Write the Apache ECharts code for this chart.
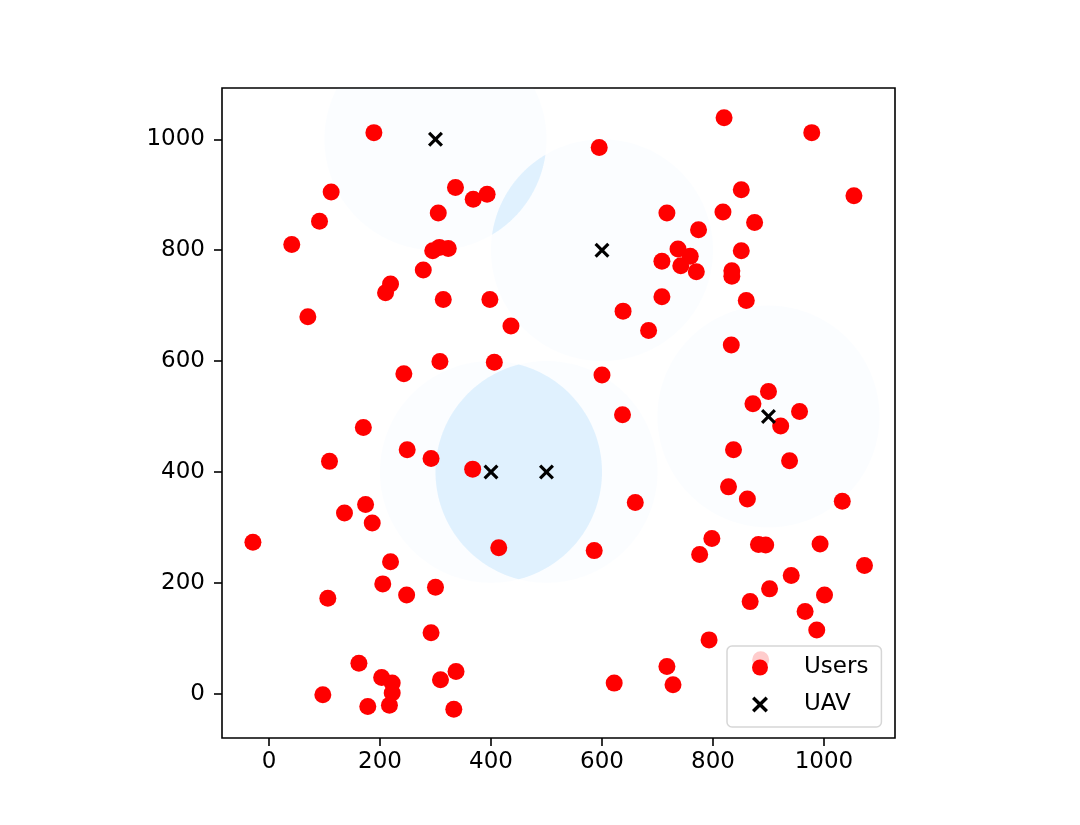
<!DOCTYPE html>
<html>
<head>
<meta charset="utf-8">
<script src="https://cdn.jsdelivr.net/npm/echarts@6/dist/echarts.min.js"></script>
<style>
html,body{margin:0;padding:0;background:#fff;}
#chart{width:1080px;height:825px;}
</style>
</head>
<body>
<div id="chart"></div>
<script>
// ---- data ----
const userX = [189,112,91,41,70,336,368,393,305,295,307,323,278,219,210,314,398,436,243,308,406,
  820,978,595,1054,851,717,818,875,774,737,759,708,742,770,851,834,834,708,860,638,684,833,600,900,872,956,637,
  170,249,292,367,109,174,136,186,-29,414,219,205,248,300,106,292,162,203,222,222,217,178,97,309,337,333,
  922,837,938,828,862,1033,660,586,798,776,882,895,993,1073,941,902,1001,867,966,987,793,717,728,622,886];
const userY = [1012,905,852,810,680,913,892,901,867,799,805,803,764,739,723,711,711,663,577,599,598,
  1039,1012,985,898,909,867,869,850,837,802,789,780,772,761,799,763,753,716,709,690,655,629,575,545,523,509,503,
  480,440,424,405,419,341,326,308,273,263,238,198,178,192,172,110,55,29,19,1,-21,-23,-2,25,40,-28,
  483,440,420,373,351,347,345,258,280,251,269,268,270,231,213,189,178,166,148,115,97,49,16,19,61];
const uavX = [300,600,900,400,500];
const uavY = [1000,800,500,400,400];
const coverageRadius = 200;
const xTicks = [0,200,400,600,800,1000];
const yTicks = [0,200,400,600,800,1000];
const seriesNames = ['Users','UAV'];

// ---- build ----
const users = userX.map((x,i)=>[x,userY[i]]);
const uavs = uavX.map((x,i)=>[x,uavY[i]]);
const pairs = [];
for (let i=0;i<uavs.length;i++) for (let j=i+1;j<uavs.length;j++){
  const dx=uavs[j][0]-uavs[i][0], dy=uavs[j][1]-uavs[i][1];
  if (Math.hypot(dx,dy) < 2*coverageRadius) pairs.push([(uavs[i][0]+uavs[j][0])/2,(uavs[i][1]+uavs[j][1])/2,i,j]);
}
function clampPt(p, cs){
  return [Math.min(Math.max(p[0],cs.x),cs.x+cs.width), Math.min(Math.max(p[1],cs.y),cs.y+cs.height)];
}
const XPATH = 'path://M3,0 L10,7 L17,0 L20,3 L13,10 L20,17 L17,20 L10,13 L3,20 L0,17 L7,10 L0,3 Z';
const FONT = 'DejaVu Sans';
const fmt = v => String(v);

const chart = echarts.init(document.getElementById('chart'), null, {renderer:'canvas'});
chart.setOption({
  animation:false,
  backgroundColor:'#ffffff',
  grid:{left:222, top:88, width:673, height:650, show:true, borderColor:'#000', borderWidth:1.6, backgroundColor:'transparent', containLabel:false},
  xAxis:{type:'value', min:-84.7, max:1128, 
    axisLine:{show:false, onZero:false},
    axisTick:{show:true, inside:false, length:8, lineStyle:{color:'#000', width:1.6}, customValues:xTicks},
    axisLabel:{show:true, color:'#000', fontFamily:FONT, fontSize:23, margin:13, customValues:xTicks, formatter:fmt},
    splitLine:{show:false}},
  yAxis:{type:'value', min:-80, max:1092.5,
    axisLine:{show:false, onZero:false},
    axisTick:{show:true, inside:false, length:8, lineStyle:{color:'#000', width:1.6}, customValues:yTicks},
    axisLabel:{show:true, color:'#000', fontFamily:FONT, fontSize:23, margin:17, customValues:yTicks, formatter:fmt},
    splitLine:{show:false}},
  legend:{
    orient:'vertical', left:727, top:646,
    data:[{name:seriesNames[0], icon:'circle'},{name:seriesNames[1], icon:XPATH}],
    itemWidth:16, itemHeight:16, itemGap:14,
    padding:[10,13,11,25],
    backgroundColor:'rgba(255,255,255,0.8)',
    borderColor:'rgba(204,204,204,0.8)', borderWidth:1.5, borderRadius:5,
    textStyle:{color:'#000', fontFamily:FONT, fontSize:23, lineHeight:23, padding:[0,0,0,31]},
    selectedMode:false
  },
  series:[
    {name:seriesNames[0], type:'scatter', data:users, symbol:'circle', symbolSize:17,
      itemStyle:{color:'#ff0000', opacity:1}, emphasis:{disabled:true}, silent:true},
    {name:seriesNames[1], type:'scatter', data:uavs, symbol:XPATH, symbolSize:15,
      itemStyle:{color:'#000', opacity:1}, emphasis:{disabled:true}, silent:true},
    {name:'coverage', type:'custom', data:uavs, silent:true,
      renderItem:function(params, api){
        const cx=api.value(0), cy=api.value(1), pts=[];
        for (let k=0;k<240;k++){const t=2*Math.PI*k/240; pts.push(clampPt(api.coord([cx+coverageRadius*Math.cos(t), cy+coverageRadius*Math.sin(t)]), params.coordSys));}
        return {type:'polygon', shape:{points:pts}, style:{fill:'rgba(135,206,250,0.03)', stroke:null}};
      }},
    {name:'overlap', type:'custom', data:pairs, silent:true,
      renderItem:function(params, api){
        const a=uavs[api.value(2)], b=uavs[api.value(3)];
        const dx=b[0]-a[0], dy=b[1]-a[1], d=Math.hypot(dx,dy);
        const th=Math.atan2(dy,dx), al=Math.acos(d/(2*coverageRadius));
        const pts=[], n=80;
        for (let k=0;k<=n;k++){const t=th-al+2*al*k/n; pts.push(clampPt(api.coord([a[0]+coverageRadius*Math.cos(t), a[1]+coverageRadius*Math.sin(t)]), params.coordSys));}
        for (let k=0;k<=n;k++){const t=th+Math.PI-al+2*al*k/n; pts.push(clampPt(api.coord([b[0]+coverageRadius*Math.cos(t), b[1]+coverageRadius*Math.sin(t)]), params.coordSys));}
        return {type:'polygon', shape:{points:pts}, style:{fill:'rgba(135,206,250,0.2)', stroke:null}};
      }}
  ]
});
</script>
</body>
</html>
